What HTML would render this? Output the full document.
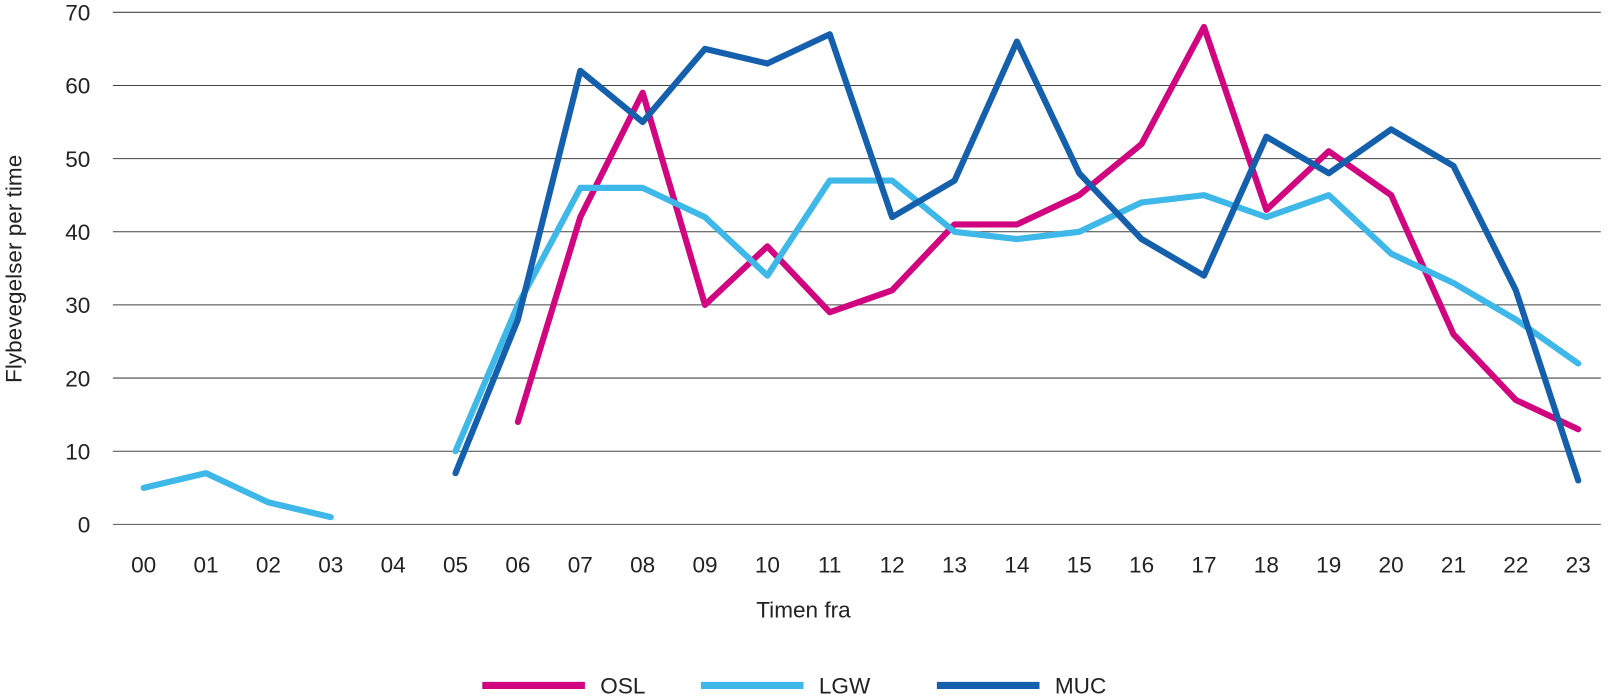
<!DOCTYPE html>
<html><head><meta charset="utf-8"><style>
html,body{margin:0;padding:0;background:#fff;}
svg{display:block;font-family:"Liberation Sans",sans-serif;}
</style></head><body>
<svg id="chart" width="1609" height="697"><g id="root" transform="scale(1.02615)"></g></svg>
<script>
const categories=["00","01","02","03","04","05","06","07","08","09","10","11","12","13","14","15","16","17","18","19","20","21","22","23"];
const yTicks=[0,10,20,30,40,50,60,70];
const oslValues=[null,null,null,null,null,null,14,42,59,30,38,29,32,41,41,45,52,68,43,51,45,26,17,13];
const lgwValues=[5,7,3,1,null,10,30,46,46,42,34,47,47,40,39,40,44,45,42,45,37,33,28,22];
const mucValues=[null,null,null,null,null,7,28,62,55,65,63,67,42,47,66,48,39,34,53,48,54,49,32,6];
const seriesNames=["OSL","LGW","MUC"];
const seriesColors=["#d1057f","#3db8e8","#1560ad"];
const NS="http://www.w3.org/2000/svg";
const svg=document.getElementById("root");
const x=i=>140+i*(1538-140)/23;
const y=v=>511-v*(511-12)/70;
function el(t,a,p){const e=document.createElementNS(NS,t);for(const k in a)e.setAttribute(k,a[k]);(p||svg).appendChild(e);return e;}
yTicks.forEach(t=>{
  const g=el("line",{x1:110,x2:1560,y1:y(t),y2:y(t),stroke:t===0?"#555":"#444","stroke-width":1});
  
  
  const tx=el("text",{x:88,y:y(t)+8,"text-anchor":"end","font-size":22,fill:"#222"});
  tx.textContent=t;
  
  
});
categories.forEach((c,i)=>{
  const tx=el("text",{x:x(i),y:558,"text-anchor":"middle","font-size":22,fill:"#222"});
  tx.textContent=c;
  
  
});
const xt=el("text",{x:783,y:602,"text-anchor":"middle","font-size":22,fill:"#222"});
xt.textContent="Timen fra";


const yt=el("text",{x:0,y:0,"text-anchor":"middle","font-size":22,fill:"#222",transform:"translate(21,262) rotate(-90)"});
yt.textContent="Flybevegelser per time";


[oslValues,lgwValues,mucValues].forEach((vals,s)=>{
  let d="",pen=false;
  vals.forEach((v,i)=>{
    if(v===null){pen=false;return;}
    d+=(pen?"L":"M")+x(i).toFixed(1)+","+y(v).toFixed(1)+" ";pen=true;
  });
  const p=el("path",{d:d,fill:"none",stroke:seriesColors[s],"stroke-width":6,"stroke-linejoin":"round","stroke-linecap":"round"});
  
  
});
const legX=[470,683,913];
seriesNames.forEach((n,s)=>{
  const l=el("line",{x1:legX[s],x2:legX[s]+100,y1:668,y2:668,stroke:seriesColors[s],"stroke-width":7});
  
  
  const t=el("text",{x:legX[s]+115,y:676,"font-size":22,fill:"#222"});
  t.textContent=n;
  
  
});
</script>
</body></html>
